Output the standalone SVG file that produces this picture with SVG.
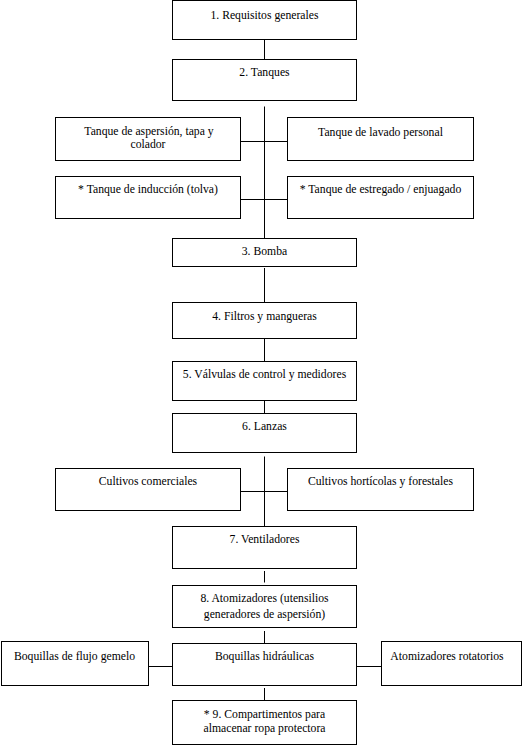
<svg xmlns="http://www.w3.org/2000/svg" width="524" height="745" viewBox="0 0 524 745">
<style>
rect{fill:#fff;stroke:#000;stroke-width:1}
text{font-family:'Liberation Serif','Times New Roman',serif;font-size:11.7px;fill:#000;text-anchor:middle}
#connectors line{stroke:#000;stroke-width:1}
</style>
<rect x="0" y="0" width="524" height="745" style="stroke:none"/>
<g id="connectors">
<line x1="264.5" y1="39.5" x2="264.5" y2="59.5"/>
<line x1="264.5" y1="106.5" x2="264.5" y2="238.5"/>
<line x1="240.5" y1="141.5" x2="287.5" y2="141.5"/>
<line x1="240.5" y1="199.5" x2="287.5" y2="199.5"/>
<line x1="264.5" y1="268" x2="264.5" y2="302.5"/>
<line x1="264.5" y1="338.5" x2="264.5" y2="361.5"/>
<line x1="264.5" y1="400.5" x2="264.5" y2="413.5"/>
<line x1="264.5" y1="456.5" x2="264.5" y2="526.5"/>
<line x1="240.5" y1="491.5" x2="287.5" y2="491.5"/>
<line x1="264.5" y1="571" x2="264.5" y2="582.5"/>
<line x1="264.5" y1="631" x2="264.5" y2="643.5"/>
<line x1="148.5" y1="666.5" x2="172.5" y2="666.5"/>
<line x1="356.5" y1="666.5" x2="381.5" y2="666.5"/>
<line x1="264.5" y1="688" x2="264.5" y2="700.5"/>
</g>
<g id="n1"><rect x="172.5" y="0.5" width="184" height="39"/><text x="264.5" y="19">1. Requisitos generales</text></g>
<g id="n2"><rect x="172.5" y="59.5" width="184" height="41"/><text x="264.5" y="76">2. Tanques</text></g>
<g id="tanque-aspersion"><rect x="55.5" y="117.5" width="185" height="43"/><text x="149" y="135">Tanque de aspersión, tapa y</text><text x="148" y="148">colador</text></g>
<g id="tanque-lavado"><rect x="287.5" y="117.5" width="186" height="43"/><text x="380.5" y="135.5">Tanque de lavado personal</text></g>
<g id="tanque-induccion"><rect x="55.5" y="176.5" width="185" height="42"/><text x="148" y="193">* Tanque de inducción (tolva)</text></g>
<g id="tanque-estregado"><rect x="287.5" y="176.5" width="186" height="42"/><text x="380.5" y="193">* Tanque de estregado / enjuagado</text></g>
<g id="n3"><rect x="172.5" y="238.5" width="184" height="28"/><text x="264.5" y="255">3. Bomba</text></g>
<g id="n4"><rect x="172.5" y="302.5" width="184" height="36"/><text x="264.5" y="320">4. Filtros y mangueras</text></g>
<g id="n5"><rect x="172.5" y="361.5" width="184" height="39"/><text x="264.5" y="378">5. Válvulas de control y medidores</text></g>
<g id="n6"><rect x="172.5" y="413.5" width="184" height="39"/><text x="264.5" y="430">6. Lanzas</text></g>
<g id="cultivos-comerciales"><rect x="55.5" y="468.5" width="185" height="42"/><text x="148" y="484.5">Cultivos comerciales</text></g>
<g id="cultivos-horticolas"><rect x="287.5" y="468.5" width="186" height="42"/><text x="380.5" y="484.5">Cultivos hortícolas y forestales</text></g>
<g id="n7"><rect x="172.5" y="526.5" width="184" height="42"/><text x="264.5" y="543">7. Ventiladores</text></g>
<g id="n8"><rect x="172.5" y="585.5" width="184" height="42"/><text x="264.5" y="602">8. Atomizadores (utensilios</text><text x="264.5" y="617.5">generadores de aspersión)</text></g>
<g id="boquillas-hidraulicas"><rect x="172.5" y="643.5" width="184" height="42"/><text x="264.5" y="660">Boquillas hidráulicas</text></g>
<g id="boquillas-gemelo"><rect x="1.5" y="641.5" width="147" height="44"/><text x="74.5" y="659.5">Boquillas de flujo gemelo</text></g>
<g id="atomizadores-rotatorios"><rect x="381.5" y="641.5" width="140" height="44"/><text x="447" y="659.5">Atomizadores rotatorios</text></g>
<g id="n9"><rect x="172.5" y="700.5" width="184" height="44"/><text x="264.5" y="717.5">* 9. Compartimentos para</text><text x="264.5" y="731.5">almacenar ropa protectora</text></g>
</svg>
